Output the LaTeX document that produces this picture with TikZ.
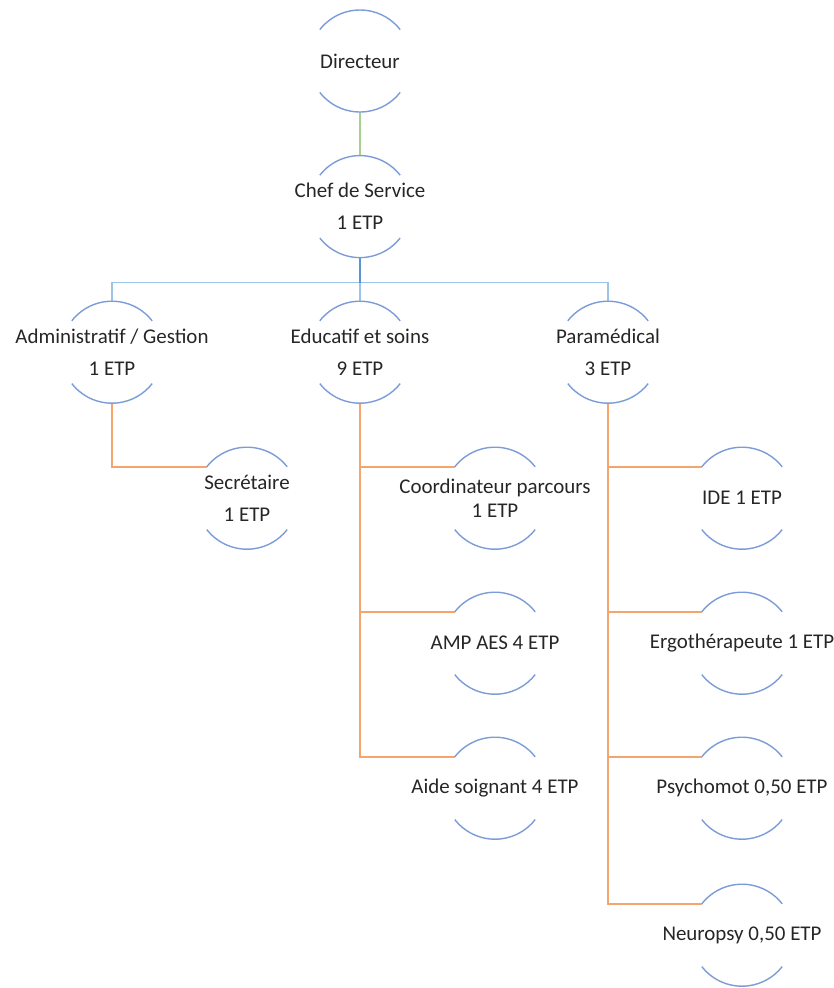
\documentclass[tikz,border=0pt]{standalone}
\usepackage{fontspec}
\setmainfont{Carlito}
\usepackage{xcolor}
\usepackage{tikz}
\usetikzlibrary{%
  arrows.meta,
  positioning,
  calc}
\definecolor{arcblue}{RGB}{124,156,216}
\definecolor{busdark}{RGB}{91,150,212}
\definecolor{buslight}{RGB}{157,195,230}
\definecolor{linkgreen}{RGB}{169,209,142}
\definecolor{linkorange}{RGB}{244,165,110}
\definecolor{roletext}{RGB}{38,38,38}
\tikzset{
  %% Role nodes (fixed circle, only top and bottom arcs are drawn)
  rolenode/.style={
    circle, minimum size=2.55cm, inner sep=0pt, outer sep=0pt},
  %% Role text, set on the centre of the circle
  rolelabel/.style={
    align=center, text=roletext, inner sep=0pt,
    font=\fontsize{14.9}{22.8}\selectfont},
  tightlabel/.style={
    rolelabel, font=\fontsize{14.9}{16.4}\selectfont},
  %% Arcs round a role
  arcline/.style={line width=1pt, arcblue},
  %% Links
  glink/.style={line width=1pt, linkgreen},
  blink/.style={line width=1pt, busdark},
  llink/.style={line width=1pt, buslight},
  olink/.style={line width=1pt, linkorange},
}
\newcommand{\rolearcs}[1]{%
  \draw[arcline] (#1.142) arc[start angle=142, end angle=38, radius=1.275cm];
  \draw[arcline] (#1.218) arc[start angle=218, end angle=322, radius=1.275cm];}

\begin{document}
\begin{tikzpicture}[on grid]

  \useasboundingbox (0,0) rectangle (20.85,-24.7);

  %% Top
  \node[rolenode, label={[rolelabel]center:Directeur}] (dir) at (9.0,-1.525) {};
  \node[rolenode, below=3.64cm of dir,
        label={[rolelabel]center:Chef de Service\\1 ETP}] (chef) {};
  \draw[glink] (dir.south) -- (chef.north);

  %% Services row
  \node[rolenode, below left=3.64cm and 6.2cm of chef,
        label={[rolelabel]center:Administratif / Gestion\\1 ETP}] (adm) {};
  \node[rolenode, below=3.64cm of chef,
        label={[rolelabel]center:Educatif et soins\\9 ETP}] (edu) {};
  \node[rolenode, below right=3.64cm and 6.2cm of chef,
        label={[rolelabel]center:Paramédical\\3 ETP}] (para) {};

  \coordinate[below=0.625cm of chef.south] (bus);
  \draw[llink] (bus) -| (adm.north);
  \draw[llink] (bus) -| (para.north);
  \draw[llink] (bus) -- (edu.north);
  \draw[blink] (chef.south) -- (bus);

  %% Administratif
  \node[rolenode, below right=3.65cm and 3.375cm of adm,
        label={[rolelabel]center:Secrétaire\\1 ETP}] (sec) {};
  \draw[olink] (adm.south) |- (sec.142);

  %% Educatif et soins
  \node[rolenode, below right=3.65cm and 3.375cm of edu,
        label={[tightlabel]center:Coordinateur parcours\\1 ETP}] (coord) {};
  \node[rolenode, below=3.625cm of coord,
        label={[rolelabel]center:AMP AES 4 ETP}] (amp) {};
  \node[rolenode, below=3.625cm of amp,
        label={[rolelabel]center:Aide soignant 4 ETP}] (aide) {};
  \draw[olink] (edu.south) |- (coord.142);
  \draw[olink] (edu.south) |- (amp.142);
  \draw[olink] (edu.south) |- (aide.142);

  %% Paramedical
  \node[rolenode, below right=3.65cm and 3.35cm of para,
        label={[rolelabel]center:IDE 1 ETP}] (ide) {};
  \node[rolenode, below=3.625cm of ide,
        label={[rolelabel]center:Ergothérapeute 1 ETP}] (ergo) {};
  \node[rolenode, below=3.625cm of ergo,
        label={[rolelabel]center:{Psychomot 0,50 ETP}}] (psy) {};
  \node[rolenode, below=3.675cm of psy,
        label={[rolelabel]center:{Neuropsy 0,50 ETP}}] (neuro) {};
  \draw[olink] (para.south) |- (ide.142);
  \draw[olink] (para.south) |- (ergo.142);
  \draw[olink] (para.south) |- (psy.142);
  \draw[olink] (para.south) |- (neuro.142);

  %% Arcs
  \foreach \r in {dir,chef,adm,edu,para,sec,coord,amp,aide,ide,ergo,psy,neuro}
    {\rolearcs{\r}}

\end{tikzpicture}
\end{document}
